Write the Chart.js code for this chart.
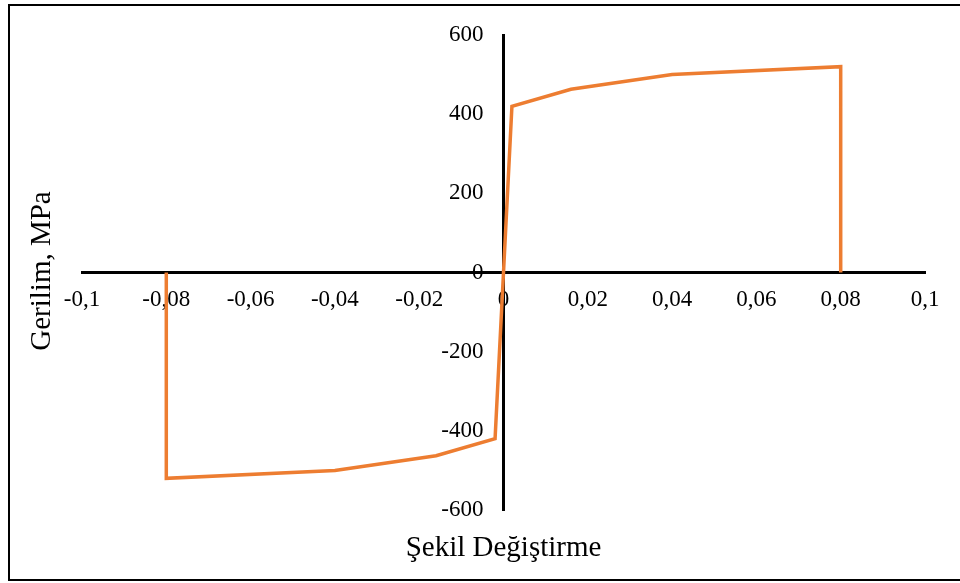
<!DOCTYPE html>
<html>
<head>
<meta charset="utf-8">
<script src="https://cdn.jsdelivr.net/npm/chart.js@4"></script>
<style>
  html, body { margin: 0; padding: 0; background: #fff; }
  #wrap { position: relative; width: 960px; height: 583px; }
</style>
</head>
<body>
<div id="wrap"><canvas id="chart" width="960" height="583"></canvas></div>
<script>
// strain / stress points
const strain = [-0.08, -0.08, -0.04, -0.016, -0.002, 0, 0.002, 0.016, 0.04, 0.08, 0.08];
const stress = [0, -520, -500, -463, -420, 0, 420, 463, 500, 520, 0];
const xTicks = [-0.1, -0.08, -0.06, -0.04, -0.02, 0, 0.02, 0.04, 0.06, 0.08, 0.1];
const yTicks = [-600, -400, -200, 0, 200, 400, 600];

const xTitle = 'Şekil Değiştirme';
const yTitle = 'Gerilim, MPa';
const FONT = '"Liberation Serif", "Times New Roman", serif';

const fmt = v => Number(v.toFixed(3)).toString().replace('.', ',');

// frame, y tick labels (left of the centred axis) and axis titles
const decor = {
  id: 'decor',
  beforeDraw(chart) {
    const ctx = chart.ctx;
    ctx.save();
    ctx.fillStyle = '#fff';
    ctx.fillRect(0, 0, chart.width, chart.height);
    ctx.strokeStyle = '#000';
    ctx.lineWidth = 2;
    ctx.beginPath();
    ctx.moveTo(960, 5);
    ctx.lineTo(9, 5);
    ctx.lineTo(9, 580);
    ctx.lineTo(960, 580);
    ctx.stroke();
    ctx.restore();
  },
  afterDraw(chart) {
    const ctx = chart.ctx;
    const xs = chart.scales.x, ys = chart.scales.y;
    const axisX = xs.getPixelForValue(0);
    ctx.save();
    ctx.fillStyle = '#000';
    ctx.font = '23px ' + FONT;
    ctx.textAlign = 'right';
    ctx.textBaseline = 'middle';
    yTicks.forEach(v => ctx.fillText(fmt(v), axisX - 20, ys.getPixelForValue(v)));

    ctx.font = '29px ' + FONT;
    ctx.textAlign = 'center';
    ctx.fillText(xTitle, axisX, 548);
    ctx.translate(42, 271);
    ctx.rotate(-Math.PI / 2);
    ctx.fillText(yTitle, 0, 0);
    ctx.restore();
  }
};

new Chart(document.getElementById('chart'), {
  type: 'scatter',
  data: {
    datasets: [{
      data: strain.map((x, i) => ({ x: x, y: stress[i] })),
      showLine: true,
      borderColor: '#ED7D31',
      borderWidth: 3.5,
      pointRadius: 0,
      tension: 0
    }]
  },
  options: {
    responsive: false,
    animation: false,
    layout: { padding: { left: 82, right: 35, top: 35, bottom: 73 } },
    plugins: { legend: { display: false }, tooltip: { enabled: false } },
    scales: {
      x: {
        type: 'linear',
        position: { y: 0 },
        min: -0.1,
        max: 0.1,
        afterBuildTicks: s => { s.ticks = xTicks.map(v => ({ value: v })); },
        grid: { display: false },
        border: { display: true, color: '#000', width: 3 },
        ticks: {
          color: '#000',
          font: { family: FONT, size: 23 },
          padding: 6,
          maxRotation: 0,
          autoSkip: false,
          callback: v => fmt(v)
        }
      },
      y: {
        type: 'linear',
        position: { x: 0 },
        min: -600,
        max: 600,
        afterBuildTicks: s => { s.ticks = yTicks.map(v => ({ value: v })); },
        grid: { display: false },
        border: { display: true, color: '#000', width: 3 },
        ticks: { display: false }
      }
    }
  },
  plugins: [decor]
});
</script>
</body>
</html>
